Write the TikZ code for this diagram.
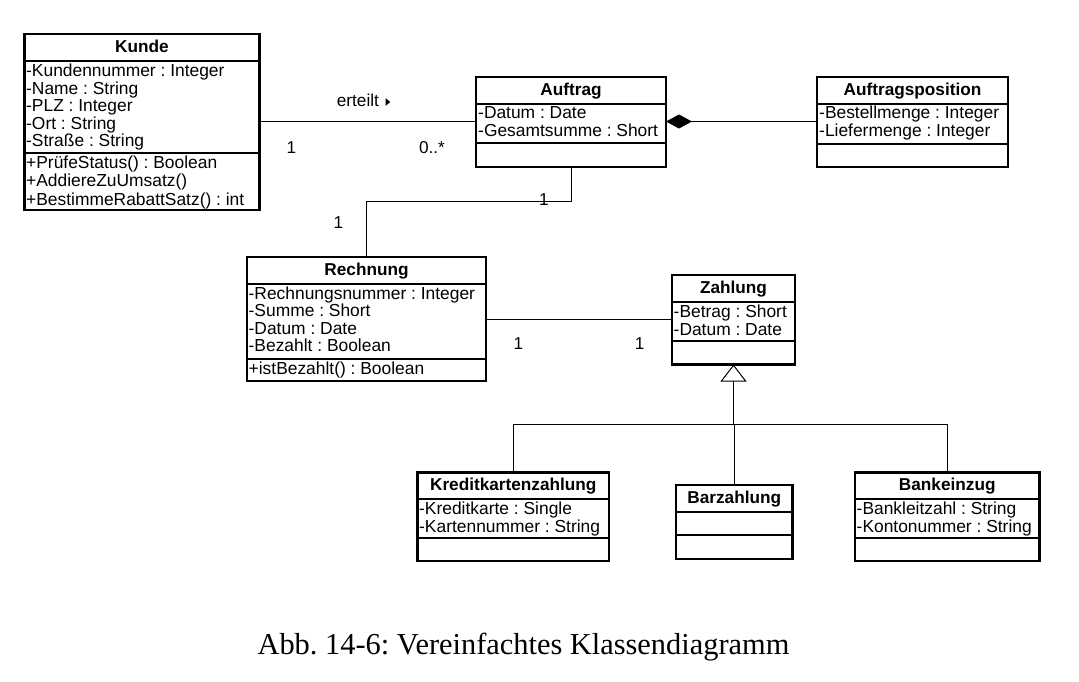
\documentclass[tikz,border=0pt]{standalone}
\usepackage{fontspec}
\setmainfont{Liberation Sans}
\newfontfamily\capfont{Liberation Serif}
\usetikzlibrary{arrows.meta}
\frenchspacing
\begin{document}
\begin{tikzpicture}[x=1pt,y=-1pt,
  cls/.style={draw, line width=2.8pt, inner sep=0pt, outer sep=0pt, fill=white},
  sepline/.style={line width=2pt},
  conn/.style={line width=1pt},
  txt/.style={inner sep=0pt, anchor=base west, font=\fontsize{17.4}{20}\selectfont},
  hdr/.style={inner sep=0pt, anchor=base, font=\fontsize{17.2}{20}\selectfont\bfseries},
  lbl/.style={inner sep=0pt, anchor=base, font=\fontsize{17.2}{20}\selectfont},
  lblw/.style={inner sep=0pt, anchor=base west, font=\fontsize{17.2}{20}\selectfont}]
\useasboundingbox (0,0) rectangle (1079,681);

% ---------- Kunde
\node[cls, minimum width=235pt, minimum height=176pt] (kunde) at (142,122) {};
\draw[sepline] (24.5,61) -- (259.5,61);
\draw[sepline] (24.5,152.5) -- (259.5,152.5);
\node[hdr] (kundeH) at (142,52.5) {Kunde};
\node[txt] (k1) at (26,76.5) {-Kundennummer : Integer};
\node[txt] (k2) at (26,94) {-Name : String};
\node[txt] (k3) at (26,111.5) {-PLZ : Integer};
\node[txt] (k4) at (26,129) {-Ort : String};
\node[txt] (k5) at (26,146.8) {-Straße : String};
\node[txt] (k6) at (26,168.2) {+PrüfeStatus() : Boolean};
\node[txt] (k7) at (26,186.5) {+AddiereZuUmsatz()};
\node[txt] (k8) at (26,205) {+BestimmeRabattSatz() : int};

% ---------- Auftrag
\node[cls, minimum width=190pt, minimum height=90pt] (auftrag) at (571,122) {};
\draw[sepline] (476,103.5) -- (666,103.5);
\draw[sepline] (476,143) -- (666,143);
\node[hdr] (auftragH) at (571,95.2) {Auftrag};
\node[txt] (a1) at (478,118.5) {-Datum : Date};
\node[txt] (a2) at (478,136.5) {-Gesamtsumme : Short};

% ---------- Auftragsposition
\node[cls, minimum width=191pt, minimum height=90pt] (apos) at (912.5,122) {};
\draw[sepline] (817,103.5) -- (1008,103.5);
\draw[sepline] (817,143.5) -- (1008,143.5);
\node[hdr] (aposH) at (912.5,95.2) {Auftragsposition};
\node[txt] (p1) at (819,118.8) {-Bestellmenge : Integer};
\node[txt] (p2) at (819,136.5) {-Liefermenge : Integer};

% ---------- Rechnung
\node[cls, minimum width=239pt, minimum height=124pt] (rechnung) at (366.5,319) {};
\draw[sepline] (247,283.5) -- (486,283.5);
\draw[sepline] (247,358.5) -- (486,358.5);
\node[hdr] (rechnungH) at (366.5,275.2) {Rechnung};
\node[txt] (r1) at (248.5,299.3) {-Rechnungsnummer : Integer};
\node[txt] (r2) at (248.5,316.8) {-Summe : Short};
\node[txt] (r3) at (248.5,334.3) {-Datum : Date};
\node[txt] (r4) at (248.5,351.8) {-Bezahlt : Boolean};
\node[txt] (r5) at (248.5,374.3) {+istBezahlt() : Boolean};

% ---------- Zahlung
\node[cls, minimum width=123pt, minimum height=89.5pt] (zahlung) at (733.5,319.75) {};
\draw[sepline] (672,301.7) -- (795,301.7);
\draw[sepline] (672,341) -- (795,341);
\node[hdr] (zahlungH) at (733.5,293.3) {Zahlung};
\node[txt] (z1) at (673.5,317.7) {-Betrag : Short};
\node[txt] (z2) at (673.5,335) {-Datum : Date};

% ---------- Kreditkartenzahlung
\node[cls, minimum width=191.5pt, minimum height=88.5pt] (kredit) at (513.25,516.75) {};
\draw[sepline] (417.5,498.5) -- (609,498.5);
\draw[sepline] (417.5,538) -- (609,538);
\node[hdr] (kreditH) at (513.25,490.5) {Kreditkartenzahlung};
\node[txt] (c1) at (419,514.3) {-Kreditkarte : Single};
\node[txt] (c2) at (419,532.3) {-Kartennummer : String};

% ---------- Barzahlung
\node[cls, minimum width=116.5pt, minimum height=74pt] (bar) at (734.25,522) {};
\draw[sepline] (676,512.3) -- (792.5,512.3);
\draw[sepline] (676,535) -- (792.5,535);
\node[hdr] (barH) at (734.25,503.6) {Barzahlung};

% ---------- Bankeinzug
\node[cls, minimum width=184.5pt, minimum height=88.5pt] (bank) at (947.25,516.75) {};
\draw[sepline] (855,498.5) -- (1039.5,498.5);
\draw[sepline] (855,538.3) -- (1039.5,538.3);
\node[hdr] (bankH) at (947.25,490.5) {Bankeinzug};
\node[txt] (b1) at (856.5,514.3) {-Bankleitzahl : String};
\node[txt] (b2) at (856.5,532) {-Kontonummer : String};

% ---------- connectors
\coordinate (kaY) at (0,121);
\draw[conn] (kunde.east |- kaY) -- (auftrag.west |- kaY);
\node[lblw] (erteilt) at (336.7,106) {erteilt};
\fill (385.7,98.3) -- (390.3,102) -- (385.7,105.7) -- cycle;
\node[lbl] (m1) at (291.5,153.5) {1};
\node[lblw] (m2) at (418.8,153.5) {0..*};

\coordinate (apY) at (0,121.5);
\draw[conn, {Diamond[length=26pt,width=14pt]}-] (auftrag.east |- apY) -- (apos.west |- apY);

\coordinate (arY) at (0,201.5);
\draw[conn] (auftrag.south) -- (auftrag.south |- arY) -- (rechnung.north |- arY) -- (rechnung.north);
\node[lbl] (m3) at (544,205) {1};
\node[lbl] (m4) at (338.5,228.3) {1};

\coordinate (rzY) at (0,319.5);
\draw[conn] (rechnung.east |- rzY) -- (zahlung.west |- rzY);
\node[lbl] (m5) at (518.5,349) {1};
\node[lbl] (m6) at (639.7,349) {1};

\coordinate (gY) at (0,424.5);
\draw[conn, {Triangle[open,length=17pt,width=26pt]}-] (zahlung.south) -- (zahlung.south |- gY);
\draw[conn] (kredit.north) -- (kredit.north |- gY) -- (bank.north |- gY) -- (bank.north);
\draw[conn] (bar.north) -- (bar.north |- gY);

% ---------- caption
\node[inner sep=0pt, anchor=base, font=\capfont\fontsize{30.4}{36}\selectfont] (caption) at (523.5,654) {Abb. 14-6: Vereinfachtes Klassendiagramm};
\end{tikzpicture}
\end{document}
